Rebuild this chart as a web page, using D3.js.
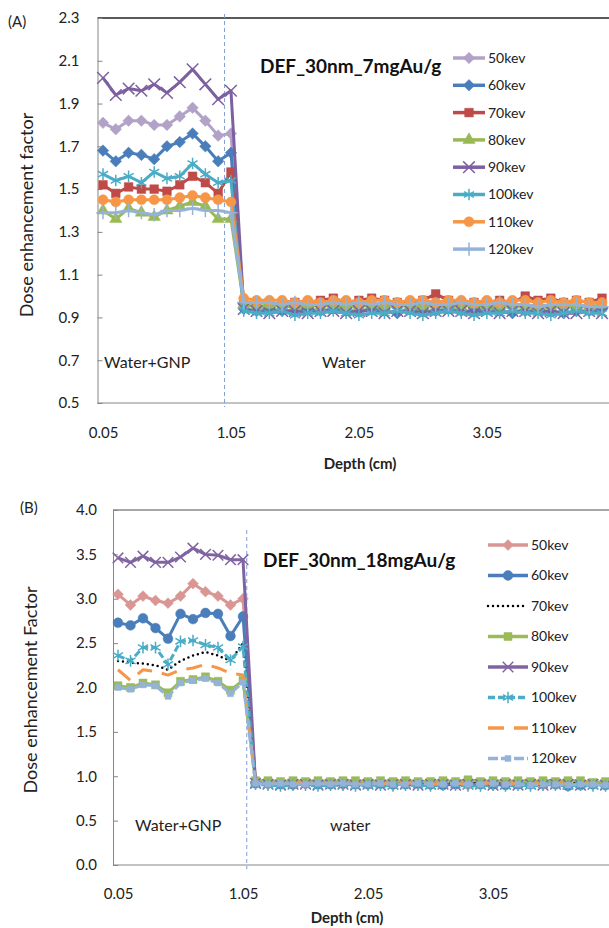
<!DOCTYPE html>
<html>
<head>
<meta charset="utf-8">
<script src="https://cdn.jsdelivr.net/npm/d3@7"></script>
<style>
body { margin: 0; background: #fff; }
svg { display: block; font-family: Lato, "Open Sans", sans-serif; }
</style>
</head>
<body>
<svg width="609" height="928"></svg>
<script>
// depth categories (cm)
const depth = [0.05,0.15,0.25,0.35,0.45,0.55,0.65,0.75,0.85,0.95,1.05,1.15,1.25,1.35,1.45,1.55,1.65,1.75,1.85,1.95,
               2.05,2.15,2.25,2.35,2.45,2.55,2.65,2.75,2.85,2.95,3.05,3.15,3.25,3.35,3.45,3.55,3.65,3.75,3.85,3.95]
const energies = ['50kev','60kev','70kev','80kev','90kev','100kev','110kev','120kev']
const xTicks = [0.05, 1.05, 2.05, 3.05]

// (A) 30nm, 7 mgAu/g
const topTicks = [0.5,0.7,0.9,1.1,1.3,1.5,1.7,1.9,2.1,2.3]
const a50 = [1.81,1.78,1.82,1.82,1.80,1.80,1.84,1.88,1.82,1.75,1.76, 0.96,0.95,0.95,0.96,0.95,0.95,0.96,0.95,0.95,0.96,0.95,0.95,0.96,0.95,0.96,0.95,0.95,0.96,0.95,0.95,0.96,0.95,0.95,0.96,0.95,0.95,0.96,0.95,0.95]
const a60 = [1.68,1.63,1.67,1.66,1.64,1.70,1.72,1.76,1.70,1.63,1.67, 0.94,0.93,0.94,0.93,0.93,0.94,0.93,0.94,0.93,0.93,0.94,0.93,0.92,0.94,0.93,0.93,0.94,0.93,0.93,0.94,0.93,0.92,0.93,0.94,0.93,0.92,0.93,0.93,0.94]
const a70 = [1.52,1.48,1.51,1.50,1.50,1.49,1.52,1.56,1.53,1.48,1.58, 0.97,0.97,0.97,0.96,0.97,0.97,0.98,0.99,0.97,0.98,0.99,0.98,0.97,0.97,0.98,1.01,0.98,0.97,0.97,0.97,0.98,0.97,1.00,0.98,0.99,0.97,0.98,0.97,0.99]
const a80 = [1.40,1.36,1.41,1.39,1.37,1.40,1.42,1.44,1.42,1.36,1.36, 0.96,0.95,0.96,0.95,0.95,0.96,0.95,0.96,0.95,0.95,0.96,0.95,0.96,0.95,0.95,0.96,0.95,0.95,0.96,0.95,0.95,0.96,0.95,0.95,0.95,0.96,0.95,0.95,0.96]
const a90 = [2.02,1.94,1.97,1.96,1.99,1.95,2.00,2.06,1.99,1.92,1.96, 0.94,0.93,0.92,0.93,0.93,0.92,0.93,0.93,0.92,0.93,0.93,0.92,0.93,0.93,0.92,0.93,0.93,0.93,0.92,0.93,0.92,0.93,0.93,0.92,0.93,0.92,0.92,0.93,0.92]
const a100 = [1.57,1.54,1.56,1.53,1.58,1.55,1.56,1.62,1.57,1.53,1.54, 0.93,0.92,0.92,0.93,0.91,0.92,0.92,0.93,0.92,0.91,0.92,0.92,0.93,0.92,0.91,0.92,0.93,0.92,0.91,0.92,0.92,0.93,0.92,0.92,0.91,0.92,0.93,0.92,0.92]
const a110 = [1.45,1.44,1.45,1.45,1.45,1.45,1.46,1.47,1.46,1.45,1.44, 0.99,0.98,0.98,0.98,0.97,0.98,0.97,0.98,0.98,0.97,0.98,0.98,0.97,0.98,0.98,0.97,0.98,0.98,0.97,0.98,0.97,0.98,0.98,0.97,0.98,0.97,0.98,0.97,0.97]
const a120 = [1.39,1.39,1.40,1.39,1.38,1.40,1.40,1.41,1.40,1.40,1.39, 0.97,0.97,0.97,0.96,0.97,0.96,0.96,0.97,0.96,0.97,0.96,0.97,0.96,0.96,0.97,0.96,0.96,0.97,0.96,0.96,0.97,0.96,0.96,0.95,0.96,0.96,0.96,0.95,0.95]

// (B) 30nm, 18 mgAu/g
const botTicks = [0.0,0.5,1.0,1.5,2.0,2.5,3.0,3.5,4.0]
const b50 = [3.05,2.93,3.03,2.98,2.95,3.03,3.17,3.08,3.03,2.93,3.00, 0.93,0.91,0.92,0.90,0.91,0.92,0.91,0.90,0.92,0.91,0.91,0.90,0.92,0.91,0.90,0.91,0.92,0.90,0.91,0.90,0.91,0.92,0.91,0.90,0.91,0.90,0.92,0.91,0.90]
const b60 = [2.73,2.70,2.78,2.67,2.55,2.83,2.77,2.84,2.83,2.58,2.80, 0.92,0.92,0.91,0.91,0.92,0.91,0.91,0.92,0.91,0.91,0.92,0.91,0.91,0.92,0.91,0.90,0.91,0.92,0.91,0.91,0.90,0.91,0.91,0.92,0.91,0.89,0.90,0.91,0.90]
const b70 = [2.30,2.28,2.27,2.25,2.20,2.30,2.36,2.40,2.36,2.30,2.50, 0.94,0.93,0.93,0.92,0.93,0.93,0.92,0.93,0.93,0.92,0.93,0.92,0.93,0.93,0.92,0.93,0.92,0.93,0.93,0.92,0.93,0.94,0.95,0.96,0.94,0.93,0.93,0.92,0.93]
const b80 = [2.02,2.00,2.05,2.03,1.94,2.07,2.09,2.12,2.07,1.97,2.08, 0.95,0.95,0.94,0.95,0.94,0.95,0.94,0.95,0.95,0.94,0.95,0.94,0.95,0.94,0.94,0.95,0.94,0.96,0.94,0.95,0.94,0.95,0.94,0.95,0.94,0.95,0.95,0.93,0.94]
const b90 = [3.46,3.41,3.48,3.41,3.41,3.47,3.57,3.50,3.49,3.44,3.44, 0.92,0.91,0.90,0.91,0.91,0.90,0.91,0.91,0.90,0.91,0.90,0.91,0.91,0.90,0.91,0.91,0.90,0.91,0.91,0.90,0.91,0.90,0.91,0.90,0.91,0.91,0.90,0.91,0.90]
const b100 = [2.36,2.30,2.45,2.45,2.26,2.52,2.53,2.48,2.45,2.31,2.46, 0.91,0.90,0.89,0.90,0.90,0.89,0.90,0.90,0.89,0.90,0.90,0.89,0.90,0.90,0.89,0.90,0.90,0.89,0.89,0.90,0.89,0.90,0.89,0.90,0.90,0.89,0.90,0.89,0.89]
const b110 = [2.20,2.08,2.20,2.18,2.14,2.20,2.22,2.26,2.22,2.16,2.14, 0.92,0.92,0.91,0.92,0.92,0.91,0.92,0.92,0.91,0.92,0.92,0.91,0.92,0.92,0.91,0.92,0.92,0.91,0.92,0.92,0.91,0.92,0.91,0.92,0.92,0.91,0.92,0.91,0.91]
const b120 = [2.00,1.98,2.03,2.02,1.90,2.05,2.08,2.10,2.05,1.93,2.06, 0.92,0.91,0.92,0.91,0.91,0.92,0.91,0.92,0.91,0.91,0.92,0.91,0.91,0.92,0.91,0.91,0.92,0.91,0.91,0.92,0.91,0.91,0.90,0.91,0.91,0.90,0.91,0.91,0.90]

// series looks (Excel 2007 palette)
const topLook = [
  { color: '#b3a2c7', sym: d3.symbolDiamond2, size: 85, fill: true },
  { color: '#4a7ebb', sym: d3.symbolDiamond2, size: 85, fill: true },
  { color: '#be4b48', sym: d3.symbolSquare, size: 75, fill: true },
  { color: '#98b954', sym: d3.symbolTriangle, size: 65, fill: true },
  { color: '#7d60a0', sym: d3.symbolTimes, size: 90, fill: false },
  { color: '#4bacc6', sym: d3.symbolAsterisk, size: 95, fill: false },
  { color: '#f79646', sym: d3.symbolCircle, size: 80, fill: true },
  { color: '#95b3d7', sym: d3.symbolPlus, size: 60, fill: false }
]
const botLook = [
  { color: '#d99694', sym: d3.symbolDiamond2, size: 75, fill: true },
  { color: '#4a7ebb', sym: d3.symbolCircle, size: 75, fill: true },
  { color: '#000000', dash: '0,5', cap: 'round', width: 2.5 },
  { color: '#9bbb59', sym: d3.symbolSquare, size: 65, fill: true },
  { color: '#8064a2', sym: d3.symbolTimes, size: 75, fill: false },
  { color: '#4bacc6', sym: d3.symbolAsterisk, size: 95, fill: false, dash: '7,3' },
  { color: '#f79646', dash: '16,10' },
  { color: '#95b3d7', sym: d3.symbolSquare, size: 35, fill: true, dash: '10,3' }
]

let svg = d3.select('svg')

function drawPanel(p) {
  let x = d3.scaleLinear().domain([depth[0], depth[depth.length - 1]]).range(p.xRange)
  let y = d3.scaleLinear().domain(p.yDomain).range(p.yRange)
  let g = svg.append('g')
  let top = p.yRange[1], bottom = p.yRange[0]

  g.append('line')
    .attr('x1', p.left).attr('x2', 609).attr('y1', top).attr('y2', top)
    .attr('stroke', p.frame).attr('stroke-width', 1.3)

  let yAxis = g.append('g')
    .attr('transform', `translate(${p.left},0)`)
    .call(d3.axisLeft(y).tickValues(p.yTicks).tickFormat(d3.format('.1f'))
      .tickSizeInner(-5).tickSizeOuter(0).tickPadding(p.yPad))
  yAxis.select('.domain').attr('stroke', '#868686')
  yAxis.selectAll('.tick line').attr('stroke', '#868686')
  yAxis.selectAll('text').attr('font-size', 15).attr('fill', '#222').attr('font-family', 'Lato')

  let xAxis = g.append('g')
    .attr('transform', `translate(0,${bottom})`)
    .call(d3.axisBottom(x).tickValues(xTicks).tickFormat(d3.format('.2f'))
      .tickSize(0).tickPadding(p.xPad))
  xAxis.select('.domain').attr('stroke', '#868686').attr('d', `M${p.left},0H609`)
  xAxis.selectAll('text').attr('font-size', 15).attr('fill', '#222').attr('font-family', 'Lato')

  // boundary between water+GNP and water
  g.append('line')
    .attr('x1', x(p.boundary)).attr('x2', x(p.boundary))
    .attr('y1', p.dashTop).attr('y2', bottom + 4)
    .attr('stroke', '#7f9fd0').attr('stroke-width', 1).attr('stroke-dasharray', '4,3')

  let line = d3.line().x((d, i) => x(depth[i])).y(d => y(d))

  p.series.forEach((vals, k) => {
    let look = p.looks[k]
    g.append('path')
      .attr('d', line(vals))
      .attr('fill', 'none')
      .attr('stroke', look.color)
      .attr('stroke-width', look.width || 3)
      .attr('stroke-linejoin', 'round')
      .attr('stroke-linecap', look.cap || 'butt')
      .attr('stroke-dasharray', look.dash || null)
    if (look.sym) {
      g.selectAll(null)
        .data(vals)
        .enter()
        .append('path')
        .attr('transform', (d, i) => `translate(${x(depth[i])},${y(d)})`)
        .attr('d', d3.symbol().type(look.sym).size(look.size))
        .attr('fill', look.fill ? look.color : 'none')
        .attr('stroke', look.color)
        .attr('stroke-width', look.fill ? 0.5 : 1.5)
    }
  })

  // legend
  let leg = g.append('g')
  energies.forEach((name, k) => {
    let look = p.looks[k]
    let ly = p.legY + k * p.legStep
    let row = leg.append('g').attr('transform', `translate(${p.legX},${ly})`)
    row.append('line')
      .attr('x1', 0).attr('x2', p.legLen).attr('y1', 0).attr('y2', 0)
      .attr('stroke', look.color).attr('stroke-width', look.width || 3.5)
      .attr('stroke-linecap', look.cap || 'butt')
      .attr('stroke-dasharray', look.dash || null)
    if (look.sym) {
      row.append('path')
        .attr('transform', `translate(${p.legLen / 2},0)`)
        .attr('d', d3.symbol().type(look.sym).size(look.size))
        .attr('fill', look.fill ? look.color : 'none')
        .attr('stroke', look.color)
        .attr('stroke-width', look.fill ? 0.5 : 1.5)
    }
    row.append('text')
      .attr('x', p.legLen + 3).attr('dy', '0.35em')
      .attr('font-size', 14).attr('fill', '#222')
      .text(name)
  })

  g.append('text')
    .attr('x', p.titleX).attr('y', p.titleY)
    .attr('font-size', 19).attr('font-weight', 'bold').attr('fill', '#111')
    .text(p.title)

  g.append('text')
    .attr('transform', `translate(${p.yLabelX},${p.yLabelY}) rotate(-90)`)
    .attr('text-anchor', 'middle').attr('font-size', 18).attr('fill', '#222')
    .text(p.yLabel)

  g.append('text')
    .attr('x', p.xLabelX).attr('y', p.xLabelY)
    .attr('text-anchor', 'middle').attr('font-size', 15).attr('font-weight', 'bold').attr('fill', '#222')
    .text('Depth (cm)')

  g.append('text').attr('x', p.tag[0]).attr('y', p.tag[1])
    .attr('font-size', 15).attr('fill', '#222').text(p.tagText)

  g.append('text').attr('x', p.gnpX).attr('y', p.noteY)
    .attr('font-size', 16).attr('fill', '#222').text('Water+GNP')
  g.append('text').attr('x', p.waterX).attr('y', p.noteY)
    .attr('font-size', 16).attr('fill', '#222').text(p.waterText)
}

drawPanel({
  series: [a50, a60, a70, a80, a90, a100, a110, a120],
  looks: topLook,
  left: 97.5, xRange: [103, 602], yDomain: [0.5, 2.3], yRange: [403, 18],
  yTicks: topTicks, yPad: 18, xPad: 24, frame: '#222',
  boundary: 1.0, dashTop: 14,
  legX: 453, legY: 58, legStep: 27.3, legLen: 32,
  title: 'DEF_30nm_7mgAu/g', titleX: 260, titleY: 73,
  yLabel: 'Dose enhancement factor', yLabelX: 33, yLabelY: 215,
  xLabelX: 360, xLabelY: 469,
  tag: [8, 27], tagText: '(A)',
  gnpX: 104, waterX: 322, noteY: 368, waterText: 'Water'
})

drawPanel({
  series: [b50, b60, b70, b80, b90, b100, b110, b120],
  looks: botLook,
  left: 113, xRange: [118, 605.5], yDomain: [0, 4], yRange: [865, 510],
  yTicks: botTicks, yPad: 16, xPad: 23, frame: '#8a8a8a',
  boundary: 1.08, dashTop: 530,
  legX: 488, legY: 545, legStep: 30.5, legLen: 40,
  title: 'DEF_30nm_18mgAu/g', titleX: 263, titleY: 567,
  yLabel: 'Dose enhancement Factor', yLabelX: 37, yLabelY: 690,
  xLabelX: 347, xLabelY: 923,
  tag: [20, 513], tagText: '(B)',
  gnpX: 135, waterX: 330, noteY: 831, waterText: 'water'
})
</script>
</body>
</html>
